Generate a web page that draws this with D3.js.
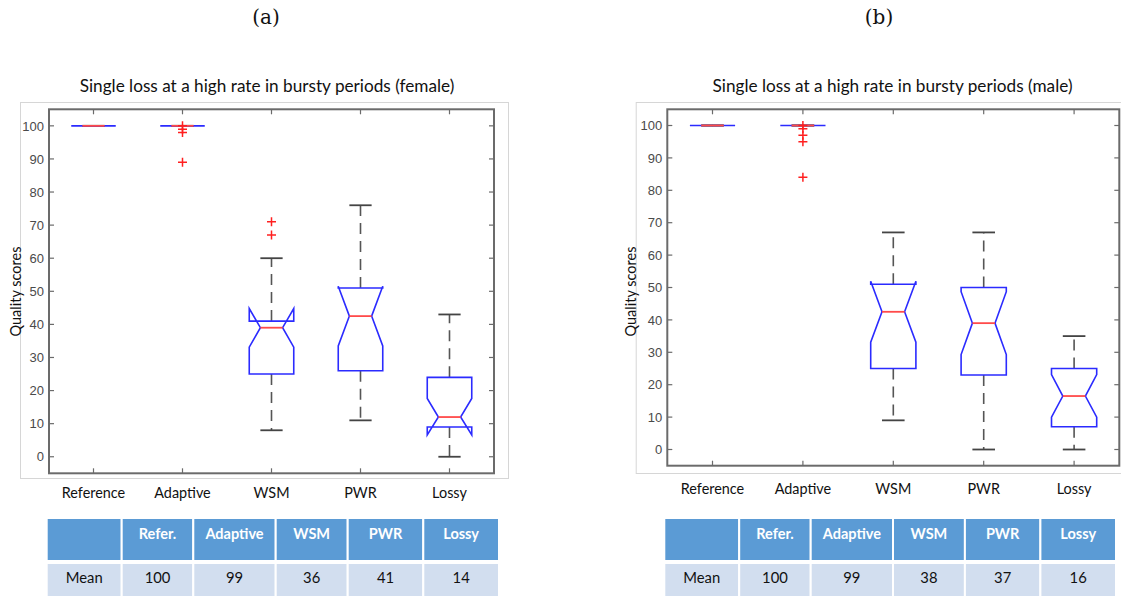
<!DOCTYPE html>
<meta charset="utf-8">
<style>
body { margin: 0; background: #fff; }
svg { display: block; }
</style>
<svg width="1121" height="596" class="fig"></svg>
<script src="https://d3js.org/d3.v7.min.js"></script>
<script>

var categories = ["Reference", "Adaptive", "WSM", "PWR", "Lossy"];
var yTicks = [0, 10, 20, 30, 40, 50, 60, 70, 80, 90, 100];

// female panel (a)
var femaleQ1 = [100, 100, 25, 26, 9];
var femaleMedian = [100, 100, 39, 42.5, 12];
var femaleQ3 = [100, 100, 41, 51, 24];
var femaleWhiskerLo = [100, 100, 8, 11, 0];
var femaleWhiskerHi = [100, 100, 60, 76, 43];
var femaleNotchLo = [100, 100, 33.1, 33.5, 6.6];
var femaleNotchHi = [100, 100, 44.8, 51.5, 17.6];
var femaleOutliers = [[], [100, 99, 98, 89], [71, 67], [], []];
var femaleMeans = [100, 99, 36, 41, 14];

// male panel (b)
var maleQ1 = [100, 100, 25, 23, 7];
var maleMedian = [100, 100, 42.5, 39, 16.5];
var maleQ3 = [100, 100, 51, 50, 25];
var maleWhiskerLo = [100, 100, 9, 0, 0];
var maleWhiskerHi = [100, 100, 67, 67, 35];
var maleNotchLo = [100, 100, 33.1, 29.3, 10];
var maleNotchHi = [100, 100, 51.9, 48.7, 23.1];
var maleOutliers = [[], [100, 99, 97, 95, 84], [], [], []];
var maleMeans = [100, 99, 38, 37, 16];

var tableHeader = ["", "Refer.", "Adaptive", "WSM", "PWR", "Lossy"];
var tableRowLabel = "Mean";

var svg = d3.select(".fig");
var calibri = "Lato, 'Open Sans', sans-serif";

function panel(opt) {
  var x = d3.scaleLinear().domain([0.5, 5.5]).range([opt.left, opt.right]);
  var y = d3.scaleLinear().domain([-5, 105]).range([opt.bottom, opt.top]);
  var boxW = x(1.25) - x(1);   // half of the 0.5 box width
  var notchW = boxW / 2;
  var capW = notchW;

  // figure frame
  svg.append("rect")
      .attr("x", opt.frameLeft + 0.5).attr("y", 102.5)
      .attr("width", opt.frameRight - opt.frameLeft).attr("height", opt.frameBottom - 102)
      .attr("fill", "#fff").attr("stroke", "#d6d6d6");

  // caption
  svg.append("text")
      .attr("x", opt.capX).attr("y", 24)
      .attr("text-anchor", "middle")
      .attr("font-family", "'DejaVu Serif', serif")
      .attr("font-size", 20)
      .attr("fill", "#111")
      .text(opt.caption);

  // title
  svg.append("text")
      .attr("x", opt.titleX).attr("y", 91.5)
      .attr("text-anchor", "middle")
      .attr("font-family", calibri)
      .attr("font-size", 17.2)
      .attr("fill", "#111")
      .text(opt.title);

  var g = svg.append("g");
  var data = categories.map(function(c, i) {
    return {i: i + 1, q1: opt.q1[i], med: opt.med[i], q3: opt.q3[i],
            lo: opt.lo[i], hi: opt.hi[i], nlo: opt.nlo[i], nhi: opt.nhi[i], out: opt.out[i]};
  });

  // whiskers
  g.selectAll(".wu").data(data).enter().append("line")
      .attr("x1", function(d) { return x(d.i); }).attr("x2", function(d) { return x(d.i); })
      .attr("y1", function(d) { return y(d.q3); }).attr("y2", function(d) { return y(d.hi); })
      .attr("stroke", "#555").attr("stroke-width", 1.6).attr("stroke-dasharray", "11,7");
  g.selectAll(".wl").data(data).enter().append("line")
      .attr("x1", function(d) { return x(d.i); }).attr("x2", function(d) { return x(d.i); })
      .attr("y1", function(d) { return y(d.q1); }).attr("y2", function(d) { return y(d.lo); })
      .attr("stroke", "#555").attr("stroke-width", 1.6).attr("stroke-dasharray", "11,7");
  ["hi", "lo"].forEach(function(k) {
    g.selectAll(".cap" + k).data(data).enter().append("line")
        .attr("x1", function(d) { return x(d.i) - capW; }).attr("x2", function(d) { return x(d.i) + capW; })
        .attr("y1", function(d) { return y(d[k]); }).attr("y2", function(d) { return y(d[k]); })
        .attr("stroke", "#444").attr("stroke-width", 1.8);
  });

  // notched boxes
  g.selectAll(".box").data(data).enter().append("path")
      .attr("d", function(d) {
        var cx = x(d.i), l = cx - boxW, r = cx + boxW;
        var pts = [[l, y(d.q1)], [l, y(d.nlo)], [cx - notchW, y(d.med)], [l, y(d.nhi)], [l, y(d.q3)],
                   [r, y(d.q3)], [r, y(d.nhi)], [cx + notchW, y(d.med)], [r, y(d.nlo)], [r, y(d.q1)]];
        return d3.line()(pts) + "Z";
      })
      .attr("fill", "none").attr("stroke", "#2b2bff").attr("stroke-width", 1.6)
      .attr("stroke-linejoin", "miter");

  // medians
  g.selectAll(".med").data(data).enter().append("line")
      .attr("x1", function(d) { return x(d.i) - notchW; }).attr("x2", function(d) { return x(d.i) + notchW; })
      .attr("y1", function(d) { return y(d.med); }).attr("y2", function(d) { return y(d.med); })
      .attr("stroke", "#ff4a4a").attr("stroke-width", 1.8);

  // outliers
  var outs = [];
  data.forEach(function(d) { d.out.forEach(function(v) { outs.push({i: d.i, v: v}); }); });
  g.selectAll(".out").data(outs).enter().append("path")
      .attr("d", function(d) {
        var cx = x(d.i), cy = y(d.v), s = 4.5;
        return "M" + (cx - s) + "," + cy + "H" + (cx + s) + "M" + cx + "," + (cy - s) + "V" + (cy + s);
      })
      .attr("stroke", "#ff2020").attr("stroke-width", 1.5).attr("fill", "none");

  // axes box with inward ticks
  var axisColor = "#6b6b6b";
  var ax = svg.append("g").attr("stroke", axisColor).attr("fill", "none");
  ax.append("rect")
      .attr("x", opt.left).attr("y", opt.top)
      .attr("width", opt.right - opt.left).attr("height", opt.bottom - opt.top)
      .attr("stroke-width", 2);
  yTicks.forEach(function(t) {
    ax.append("line").attr("x1", opt.left).attr("x2", opt.left + 5)
        .attr("y1", y(t)).attr("y2", y(t)).attr("stroke-width", 1.2);
    ax.append("line").attr("x1", opt.right).attr("x2", opt.right - 5)
        .attr("y1", y(t)).attr("y2", y(t)).attr("stroke-width", 1.2);
  });
  categories.forEach(function(c, i) {
    ax.append("line").attr("x1", x(i + 1)).attr("x2", x(i + 1))
        .attr("y1", opt.top).attr("y2", opt.top + 5).attr("stroke-width", 1.2);
    ax.append("line").attr("x1", x(i + 1)).attr("x2", x(i + 1))
        .attr("y1", opt.bottom).attr("y2", opt.bottom - 5).attr("stroke-width", 1.2);
  });

  svg.append("g").selectAll("text").data(yTicks).enter().append("text")
      .attr("x", opt.left - 5).attr("y", function(d) { return y(d); })
      .attr("dy", "0.36em")
      .attr("text-anchor", "end")
      .attr("font-family", "'Liberation Sans', Arial, sans-serif")
      .attr("font-size", 13)
      .attr("fill", "#4a4a4a")
      .text(function(d) { return d; });

  svg.append("g").selectAll("text").data(categories).enter().append("text")
      .attr("x", function(d, i) { return x(i + 1); }).attr("y", opt.catY)
      .attr("dy", "0.35em")
      .attr("text-anchor", "middle")
      .attr("font-family", calibri)
      .attr("font-size", 14.4)
      .attr("fill", "#111")
      .text(function(d) { return d; });

  svg.append("text")
      .attr("transform", "translate(" + opt.ylabX + ",291.5) rotate(-90)")
      .attr("text-anchor", "middle")
      .attr("dy", "0.35em")
      .attr("font-family", calibri)
      .attr("font-size", 14.5)
      .attr("fill", "#111")
      .text("Quality scores");

  // mean table
  var colFrac = [75, 71.6, 82.4, 72, 75.6, 75.7];
  var tot = d3.sum(colFrac);
  var cx0 = opt.tableLeft, scale = (opt.tableRight - opt.tableLeft) / tot;
  var cols = colFrac.map(function(w) { var c = {x: cx0, w: w * scale}; cx0 += w * scale; return c; });
  var tg = svg.append("g");
  cols.forEach(function(c, i) {
    tg.append("rect").attr("x", c.x).attr("y", 518).attr("width", c.w).attr("height", 43)
        .attr("fill", "#5b9bd5").attr("stroke", "#fff").attr("stroke-width", 2);
    tg.append("rect").attr("x", c.x).attr("y", 563).attr("width", c.w).attr("height", 43)
        .attr("fill", "#d2deef").attr("stroke", "#fff").attr("stroke-width", 2);
    tg.append("text").attr("x", c.x + c.w / 2).attr("y", 533.5).attr("dy", "0.35em")
        .attr("text-anchor", "middle").attr("font-family", calibri).attr("font-weight", "bold")
        .attr("font-size", 14.5).attr("fill", "#fff").text(tableHeader[i]);
    tg.append("text").attr("x", c.x + c.w / 2).attr("y", 578).attr("dy", "0.35em")
        .attr("text-anchor", "middle").attr("font-family", calibri)
        .attr("font-size", 14.8).attr("fill", "#111")
        .text(i === 0 ? tableRowLabel : opt.means[i - 1]);
  });
}

panel({
  caption: "(a)", capX: 266,
  title: "Single loss at a high rate in bursty periods (female)", titleX: 267,
  left: 49, right: 494, top: 109.3, bottom: 473.3,
  frameLeft: 20, frameRight: 508, frameBottom: 478,
  catY: 492.5, ylabX: 16,
  q1: femaleQ1, med: femaleMedian, q3: femaleQ3, lo: femaleWhiskerLo, hi: femaleWhiskerHi,
  nlo: femaleNotchLo, nhi: femaleNotchHi, out: femaleOutliers,
  tableLeft: 46.7, tableRight: 499, means: femaleMeans
});

panel({
  caption: "(b)", capX: 879,
  title: "Single loss at a high rate in bursty periods (male)", titleX: 892.5,
  left: 667.3, right: 1119.3, top: 109.3, bottom: 465.7,
  frameLeft: 635.7, frameRight: 1130, frameBottom: 473,
  catY: 489.3, ylabX: 631,
  q1: maleQ1, med: maleMedian, q3: maleQ3, lo: maleWhiskerLo, hi: maleWhiskerHi,
  nlo: maleNotchLo, nhi: maleNotchHi, out: maleOutliers,
  tableLeft: 664.3, tableRight: 1116, means: maleMeans
});

</script>
